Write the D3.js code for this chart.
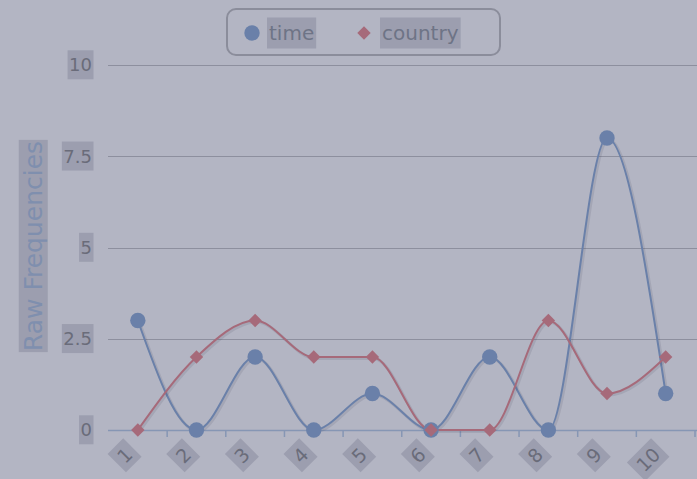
<!DOCTYPE html>
<html>
<head>
<meta charset="utf-8">
<script src="https://cdnjs.cloudflare.com/ajax/libs/d3/7.8.5/d3.min.js"></script>
<style>
	body { margin: 0; background: #b3b5c3; }
	svg { display: block; font-family: "DejaVu Sans", sans-serif; }
</style>
</head>
<body>
<div id="chartBox"></div>
<script>
var categories = ['1', '2', '3', '4', '5', '6', '7', '8', '9', '10'];
var timeValues = [3, 0, 2, 0, 1, 0, 2, 0, 8, 1];
var countryValues = [0, 2, 3, 2, 2, 0, 0, 3, 1, 2];
var yTicks = [0, 2.5, 5, 7.5, 10];
var yTickLabels = ['0', '2.5', '5', '7.5', '10'];
var seriesNames = ['time', 'country'];

var width = 697, height = 479;
var hiColor = '#9c9eaf';

var svg = d3.select('#chartBox').append('svg')
	.attr('width', width)
	.attr('height', height);

svg.append('rect')
	.attr('width', width)
	.attr('height', height)
	.attr('fill', '#b3b5c3');

var x = d3.scaleBand()
	.domain(categories)
	.range([108.5, 695]);

var y = d3.scaleLinear()
	.domain([0, 10])
	.range([430, 65]);

// put a highlight box behind a text node
function highlight(sel, padX, padY) {
	sel.each(function() {
		var node = this;
		var b = node.getBBox();
		d3.select(node.parentNode).insert('rect', function() { return node; })
			.attr('x', b.x - padX)
			.attr('y', b.y - padY)
			.attr('width', b.width + padX * 2)
			.attr('height', b.height + padY * 2)
			.attr('fill', hiColor);
	});
}

// grid
svg.append('g').selectAll('line')
	.data(yTicks.filter(function(d) { return d > 0; }))
	.enter()
	.append('line')
	.attr('x1', 108)
	.attr('x2', width)
	.attr('y1', function(d) { return Math.round(y(d)) + 0.5; })
	.attr('y2', function(d) { return Math.round(y(d)) + 0.5; })
	.attr('stroke', '#8d8f9e')
	.attr('stroke-width', 1.2);

// y labels
var yl = svg.append('g');
yTicks.forEach(function(d, i) {
	var g = yl.append('g');
	var t = g.append('text')
		.text(yTickLabels[i])
		.attr('x', 92)
		.attr('y', y(d))
		.attr('dy', '0.35em')
		.attr('text-anchor', 'end')
		.attr('fill', '#6a6c7a')
		.style('font-size', '18px');
	highlight(t, 1.5, 4);
});

// x axis
svg.append('line')
	.attr('x1', 108)
	.attr('x2', width)
	.attr('y1', 430.5)
	.attr('y2', 430.5)
	.attr('stroke', '#8696b4')
	.attr('stroke-width', 1.5);

svg.append('g').selectAll('line')
	.data(categories)
	.enter()
	.append('line')
	.attr('x1', function(d) { return x(d) + x.bandwidth(); })
	.attr('x2', function(d) { return x(d) + x.bandwidth(); })
	.attr('y1', 430)
	.attr('y2', 437)
	.attr('stroke', '#8696b4')
	.attr('stroke-width', 1.5);

var xl = svg.append('g');
categories.forEach(function(c) {
	var cx = x(c) + x.bandwidth() / 2;
	var g = xl.append('g')
		.attr('transform', 'translate(' + (cx - 4) + ',456) rotate(-45)');
	var t = g.append('text')
		.text(c)
		.attr('text-anchor', 'end')
		.attr('fill', '#6a6c7a')
		.style('font-size', '19px');
	highlight(t, 5, 2);
});

// axis title
var tg = svg.append('g')
	.attr('transform', 'translate(33,246) rotate(-90)');
var tt = tg.append('text')
	.text('Raw Frequencies')
	.attr('text-anchor', 'middle')
	.attr('dy', '0.35em')
	.attr('fill', '#7f8fae')
	.style('font-size', '25px');
highlight(tt, 1, 0);

// lines
var line = d3.line()
	.x(function(d, i) { return x(categories[i]) + x.bandwidth() / 2; })
	.y(function(d) { return y(d); })
	.curve(d3.curveMonotoneX);

var series = [
	{ name: seriesNames[0], values: timeValues, color: '#6a80a9' },
	{ name: seriesNames[1], values: countryValues, color: '#a66a7a' }
];

series.forEach(function(s) {
	svg.append('path')
		.attr('d', line(s.values))
		.attr('fill', 'none')
		.attr('stroke', 'rgba(60,60,80,0.12)')
		.attr('stroke-width', 3)
		.attr('transform', 'translate(1.5,1.5)');
	svg.append('path')
		.attr('d', line(s.values))
		.attr('fill', 'none')
		.attr('stroke', s.color)
		.attr('stroke-width', 2);
});

var sym0 = d3.symbol().type(d3.symbolCircle).size(186);
var sym1 = d3.symbol().type(d3.symbolSquare).size(90);

series.forEach(function(s, si) {
	svg.append('g').selectAll('path')
		.data(s.values)
		.enter()
		.append('path')
		.attr('d', si == 0 ? sym0 : sym1)
		.attr('transform', function(d, i) {
			var px = x(categories[i]) + x.bandwidth() / 2;
			return 'translate(' + px + ',' + y(d) + ')' + (si == 1 ? ' rotate(45)' : '');
		})
		.attr('fill', s.color);
});

// legend
var leg = svg.append('g');
leg.append('rect')
	.attr('x', 227)
	.attr('y', 9)
	.attr('width', 273)
	.attr('height', 46)
	.attr('rx', 9)
	.attr('fill', '#b3b5c3')
	.attr('stroke', '#8b8d9b')
	.attr('stroke-width', 2);

leg.append('path')
	.attr('d', sym0)
	.attr('transform', 'translate(252,33)')
	.attr('fill', series[0].color);
leg.append('path')
	.attr('d', sym1)
	.attr('transform', 'translate(364,33) rotate(45)')
	.attr('fill', series[1].color);

var lt = leg.append('text')
	.text(seriesNames[0])
	.attr('x', 269)
	.attr('y', 33)
	.attr('dy', '0.35em')
	.attr('fill', '#6e7486')
	.style('font-size', '20px');
highlight(lt, 2, 3.5);
var lc = leg.append('text')
	.text(seriesNames[1])
	.attr('x', 382)
	.attr('y', 33)
	.attr('dy', '0.35em')
	.attr('fill', '#6e7486')
	.style('font-size', '20px');
highlight(lc, 2, 3.5);
</script>
</body>
</html>
